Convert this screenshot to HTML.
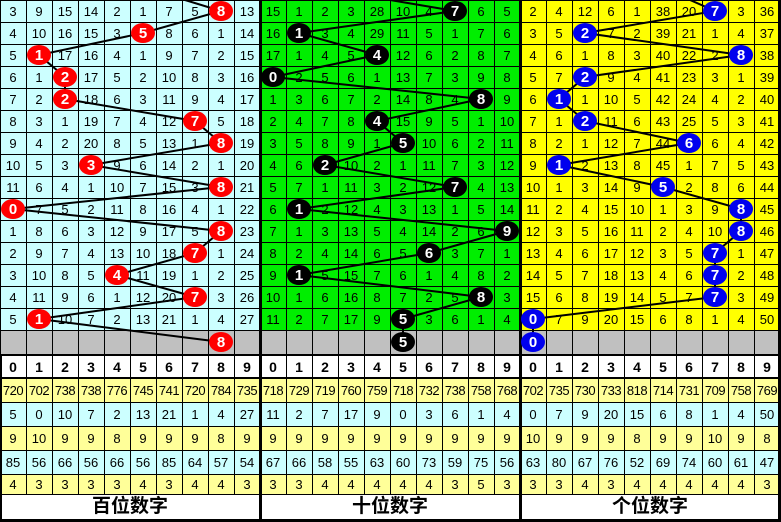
<!DOCTYPE html>
<html><head><meta charset="utf-8"><style>
*{margin:0;padding:0;box-sizing:border-box}
body{width:781px;height:522px;position:relative;overflow:hidden;background:#fff;font-family:"Liberation Sans","Noto Sans CJK SC",sans-serif;font-size:13px;color:#000}
.p{position:absolute;top:0;width:260px;height:330px;background-image:linear-gradient(to right,#000 1px,transparent 1px),linear-gradient(to bottom,#000 1px,transparent 1px);background-size:26px 22px}
.r{display:flex;height:22px;line-height:23px}
.r span{width:26px;text-align:center}
.g{position:absolute;top:330px;height:24px;width:780px;left:0;background-color:#c0c0c0;background-image:linear-gradient(to right,#000 1px,transparent 1px),linear-gradient(to bottom,#000 1px,transparent 1px);background-size:26px 24px}
.s{position:absolute;left:0;width:780px;display:flex;background-image:linear-gradient(to right,#000 1px,transparent 1px);background-size:26px 100%;border-bottom:1px solid #000}
.s span{width:26px;text-align:center}
.v{position:absolute;background:#000}
</style></head><body>
<div class="p" style="left:0;background-color:#ccffff">
<div class="r"><span>3</span><span>9</span><span>15</span><span>14</span><span>2</span><span>1</span><span>7</span><span>5</span><span>8</span><span>13</span></div>
<div class="r"><span>4</span><span>10</span><span>16</span><span>15</span><span>3</span><span>5</span><span>8</span><span>6</span><span>1</span><span>14</span></div>
<div class="r"><span>5</span><span>1</span><span>17</span><span>16</span><span>4</span><span>1</span><span>9</span><span>7</span><span>2</span><span>15</span></div>
<div class="r"><span>6</span><span>1</span><span>2</span><span>17</span><span>5</span><span>2</span><span>10</span><span>8</span><span>3</span><span>16</span></div>
<div class="r"><span>7</span><span>2</span><span>2</span><span>18</span><span>6</span><span>3</span><span>11</span><span>9</span><span>4</span><span>17</span></div>
<div class="r"><span>8</span><span>3</span><span>1</span><span>19</span><span>7</span><span>4</span><span>12</span><span>7</span><span>5</span><span>18</span></div>
<div class="r"><span>9</span><span>4</span><span>2</span><span>20</span><span>8</span><span>5</span><span>13</span><span>1</span><span>8</span><span>19</span></div>
<div class="r"><span>10</span><span>5</span><span>3</span><span>3</span><span>9</span><span>6</span><span>14</span><span>2</span><span>1</span><span>20</span></div>
<div class="r"><span>11</span><span>6</span><span>4</span><span>1</span><span>10</span><span>7</span><span>15</span><span>3</span><span>8</span><span>21</span></div>
<div class="r"><span>0</span><span>7</span><span>5</span><span>2</span><span>11</span><span>8</span><span>16</span><span>4</span><span>1</span><span>22</span></div>
<div class="r"><span>1</span><span>8</span><span>6</span><span>3</span><span>12</span><span>9</span><span>17</span><span>5</span><span>8</span><span>23</span></div>
<div class="r"><span>2</span><span>9</span><span>7</span><span>4</span><span>13</span><span>10</span><span>18</span><span>7</span><span>1</span><span>24</span></div>
<div class="r"><span>3</span><span>10</span><span>8</span><span>5</span><span>4</span><span>11</span><span>19</span><span>1</span><span>2</span><span>25</span></div>
<div class="r"><span>4</span><span>11</span><span>9</span><span>6</span><span>1</span><span>12</span><span>20</span><span>7</span><span>3</span><span>26</span></div>
<div class="r"><span>5</span><span>1</span><span>10</span><span>7</span><span>2</span><span>13</span><span>21</span><span>1</span><span>4</span><span>27</span></div>
</div>
<div class="p" style="left:260px;background-color:#00ee00">
<div class="r"><span>15</span><span>1</span><span>2</span><span>3</span><span>28</span><span>10</span><span>4</span><span>7</span><span>6</span><span>5</span></div>
<div class="r"><span>16</span><span>1</span><span>3</span><span>4</span><span>29</span><span>11</span><span>5</span><span>1</span><span>7</span><span>6</span></div>
<div class="r"><span>17</span><span>1</span><span>4</span><span>5</span><span>4</span><span>12</span><span>6</span><span>2</span><span>8</span><span>7</span></div>
<div class="r"><span>0</span><span>2</span><span>5</span><span>6</span><span>1</span><span>13</span><span>7</span><span>3</span><span>9</span><span>8</span></div>
<div class="r"><span>1</span><span>3</span><span>6</span><span>7</span><span>2</span><span>14</span><span>8</span><span>4</span><span>8</span><span>9</span></div>
<div class="r"><span>2</span><span>4</span><span>7</span><span>8</span><span>4</span><span>15</span><span>9</span><span>5</span><span>1</span><span>10</span></div>
<div class="r"><span>3</span><span>5</span><span>8</span><span>9</span><span>1</span><span>5</span><span>10</span><span>6</span><span>2</span><span>11</span></div>
<div class="r"><span>4</span><span>6</span><span>2</span><span>10</span><span>2</span><span>1</span><span>11</span><span>7</span><span>3</span><span>12</span></div>
<div class="r"><span>5</span><span>7</span><span>1</span><span>11</span><span>3</span><span>2</span><span>12</span><span>7</span><span>4</span><span>13</span></div>
<div class="r"><span>6</span><span>1</span><span>2</span><span>12</span><span>4</span><span>3</span><span>13</span><span>1</span><span>5</span><span>14</span></div>
<div class="r"><span>7</span><span>1</span><span>3</span><span>13</span><span>5</span><span>4</span><span>14</span><span>2</span><span>6</span><span>9</span></div>
<div class="r"><span>8</span><span>2</span><span>4</span><span>14</span><span>6</span><span>5</span><span>6</span><span>3</span><span>7</span><span>1</span></div>
<div class="r"><span>9</span><span>1</span><span>5</span><span>15</span><span>7</span><span>6</span><span>1</span><span>4</span><span>8</span><span>2</span></div>
<div class="r"><span>10</span><span>1</span><span>6</span><span>16</span><span>8</span><span>7</span><span>2</span><span>5</span><span>8</span><span>3</span></div>
<div class="r"><span>11</span><span>2</span><span>7</span><span>17</span><span>9</span><span>5</span><span>3</span><span>6</span><span>1</span><span>4</span></div>
</div>
<div class="p" style="left:520px;background-color:#ffff00">
<div class="r"><span>2</span><span>4</span><span>12</span><span>6</span><span>1</span><span>38</span><span>20</span><span>7</span><span>3</span><span>36</span></div>
<div class="r"><span>3</span><span>5</span><span>2</span><span>7</span><span>2</span><span>39</span><span>21</span><span>1</span><span>4</span><span>37</span></div>
<div class="r"><span>4</span><span>6</span><span>1</span><span>8</span><span>3</span><span>40</span><span>22</span><span>2</span><span>8</span><span>38</span></div>
<div class="r"><span>5</span><span>7</span><span>2</span><span>9</span><span>4</span><span>41</span><span>23</span><span>3</span><span>1</span><span>39</span></div>
<div class="r"><span>6</span><span>1</span><span>1</span><span>10</span><span>5</span><span>42</span><span>24</span><span>4</span><span>2</span><span>40</span></div>
<div class="r"><span>7</span><span>1</span><span>2</span><span>11</span><span>6</span><span>43</span><span>25</span><span>5</span><span>3</span><span>41</span></div>
<div class="r"><span>8</span><span>2</span><span>1</span><span>12</span><span>7</span><span>44</span><span>6</span><span>6</span><span>4</span><span>42</span></div>
<div class="r"><span>9</span><span>1</span><span>2</span><span>13</span><span>8</span><span>45</span><span>1</span><span>7</span><span>5</span><span>43</span></div>
<div class="r"><span>10</span><span>1</span><span>3</span><span>14</span><span>9</span><span>5</span><span>2</span><span>8</span><span>6</span><span>44</span></div>
<div class="r"><span>11</span><span>2</span><span>4</span><span>15</span><span>10</span><span>1</span><span>3</span><span>9</span><span>8</span><span>45</span></div>
<div class="r"><span>12</span><span>3</span><span>5</span><span>16</span><span>11</span><span>2</span><span>4</span><span>10</span><span>8</span><span>46</span></div>
<div class="r"><span>13</span><span>4</span><span>6</span><span>17</span><span>12</span><span>3</span><span>5</span><span>7</span><span>1</span><span>47</span></div>
<div class="r"><span>14</span><span>5</span><span>7</span><span>18</span><span>13</span><span>4</span><span>6</span><span>7</span><span>2</span><span>48</span></div>
<div class="r"><span>15</span><span>6</span><span>8</span><span>19</span><span>14</span><span>5</span><span>7</span><span>7</span><span>3</span><span>49</span></div>
<div class="r"><span>0</span><span>7</span><span>9</span><span>20</span><span>15</span><span>6</span><span>8</span><span>1</span><span>4</span><span>50</span></div>
</div>
<div class="g"></div>
<div class="v" style="left:0;top:354px;width:781px;height:2px"></div>
<div class="s" style="top:356px;height:23px;line-height:22px;background-color:#fff;font-weight:bold;font-size:14px;border-bottom:2px solid #000"><span>0</span><span>1</span><span>2</span><span>3</span><span>4</span><span>5</span><span>6</span><span>7</span><span>8</span><span>9</span><span>0</span><span>1</span><span>2</span><span>3</span><span>4</span><span>5</span><span>6</span><span>7</span><span>8</span><span>9</span><span>0</span><span>1</span><span>2</span><span>3</span><span>4</span><span>5</span><span>6</span><span>7</span><span>8</span><span>9</span></div>
<div class="s" style="top:379px;height:24px;line-height:23px;background-color:#ffff99;letter-spacing:-0.5px"><span>720</span><span>702</span><span>738</span><span>738</span><span>776</span><span>745</span><span>741</span><span>720</span><span>784</span><span>735</span><span>718</span><span>729</span><span>719</span><span>760</span><span>759</span><span>718</span><span>732</span><span>738</span><span>758</span><span>768</span><span>702</span><span>735</span><span>730</span><span>733</span><span>818</span><span>714</span><span>731</span><span>709</span><span>758</span><span>769</span></div>
<div class="s" style="top:403px;height:24px;line-height:23px;background-color:#ccffff"><span>5</span><span>0</span><span>10</span><span>7</span><span>2</span><span>13</span><span>21</span><span>1</span><span>4</span><span>27</span><span>11</span><span>2</span><span>7</span><span>17</span><span>9</span><span>0</span><span>3</span><span>6</span><span>1</span><span>4</span><span>0</span><span>7</span><span>9</span><span>20</span><span>15</span><span>6</span><span>8</span><span>1</span><span>4</span><span>50</span></div>
<div class="s" style="top:427px;height:24px;line-height:23px;background-color:#ffff99"><span>9</span><span>10</span><span>9</span><span>9</span><span>8</span><span>9</span><span>9</span><span>9</span><span>8</span><span>9</span><span>9</span><span>9</span><span>9</span><span>9</span><span>9</span><span>9</span><span>9</span><span>9</span><span>9</span><span>9</span><span>10</span><span>9</span><span>9</span><span>9</span><span>8</span><span>9</span><span>9</span><span>10</span><span>9</span><span>8</span></div>
<div class="s" style="top:451px;height:24px;line-height:23px;background-color:#ccffff"><span>85</span><span>56</span><span>66</span><span>56</span><span>66</span><span>56</span><span>85</span><span>64</span><span>57</span><span>54</span><span>67</span><span>66</span><span>58</span><span>55</span><span>63</span><span>60</span><span>73</span><span>59</span><span>75</span><span>56</span><span>63</span><span>80</span><span>67</span><span>76</span><span>52</span><span>69</span><span>74</span><span>60</span><span>61</span><span>47</span></div>
<div class="s" style="top:475px;height:20px;line-height:19px;background-color:#ffff99"><span>4</span><span>3</span><span>3</span><span>3</span><span>3</span><span>4</span><span>3</span><span>4</span><span>4</span><span>3</span><span>3</span><span>3</span><span>4</span><span>4</span><span>4</span><span>4</span><span>4</span><span>3</span><span>5</span><span>3</span><span>3</span><span>3</span><span>4</span><span>3</span><span>4</span><span>4</span><span>4</span><span>4</span><span>4</span><span>3</span></div>
<div style="position:absolute;top:495px;left:0;width:781px;height:24px;display:flex;font-size:19px;font-weight:bold;line-height:24px">
<div style="width:260px;text-align:center">百位数字</div><div style="width:260px;text-align:center">十位数字</div><div style="width:260px;text-align:center">个位数字</div></div>
<div class="v" style="left:0;top:519px;width:781px;height:3px"></div>
<div class="v" style="left:259px;top:0;width:3px;height:522px"></div>
<div class="v" style="left:519px;top:0;width:3px;height:522px"></div>
<div class="v" style="left:778px;top:0;width:3px;height:522px"></div>
<div class="v" style="left:0;top:354px;width:2px;height:168px"></div>
<svg width="781" height="522" style="position:absolute;left:0;top:0" font-family="Liberation Sans,sans-serif" font-weight="bold" font-size="15" text-anchor="middle">
<g fill="none" stroke="#000" stroke-width="2">
<polyline points="185,0 221,11 143,33 39,55 65,77 65,99 195,121 221,143 91,165 221,187 13,209 221,231 195,253 117,275 195,297 39,319 221,342"/>
<polyline points="390,0 455,11 299,33 377,55 273,77 481,99 377,121 403,143 325,165 455,187 299,209 507,231 429,253 299,275 481,297 403,319 403,342"/>
<polyline points="690,0 715,11 585,33 741,55 585,77 559,99 585,121 689,143 559,165 663,187 741,209 741,231 715,253 715,275 715,297 533,319 533,342"/>
</g>
<g fill="#f00">
<ellipse cx="221" cy="11" rx="12" ry="10"/><ellipse cx="143" cy="33" rx="12" ry="10"/><ellipse cx="39" cy="55" rx="12" ry="10"/><ellipse cx="65" cy="77" rx="12" ry="10"/><ellipse cx="65" cy="99" rx="12" ry="10"/><ellipse cx="195" cy="121" rx="12" ry="10"/><ellipse cx="221" cy="143" rx="12" ry="10"/><ellipse cx="91" cy="165" rx="12" ry="10"/><ellipse cx="221" cy="187" rx="12" ry="10"/><ellipse cx="13" cy="209" rx="12" ry="10"/><ellipse cx="221" cy="231" rx="12" ry="10"/><ellipse cx="195" cy="253" rx="12" ry="10"/><ellipse cx="117" cy="275" rx="12" ry="10"/><ellipse cx="195" cy="297" rx="12" ry="10"/><ellipse cx="39" cy="319" rx="12" ry="10"/><ellipse cx="221" cy="342" rx="12" ry="10"/>
</g>
<g fill="#000">
<ellipse cx="455" cy="11" rx="12" ry="10"/><ellipse cx="299" cy="33" rx="12" ry="10"/><ellipse cx="377" cy="55" rx="12" ry="10"/><ellipse cx="273" cy="77" rx="12" ry="10"/><ellipse cx="481" cy="99" rx="12" ry="10"/><ellipse cx="377" cy="121" rx="12" ry="10"/><ellipse cx="403" cy="143" rx="12" ry="10"/><ellipse cx="325" cy="165" rx="12" ry="10"/><ellipse cx="455" cy="187" rx="12" ry="10"/><ellipse cx="299" cy="209" rx="12" ry="10"/><ellipse cx="507" cy="231" rx="12" ry="10"/><ellipse cx="429" cy="253" rx="12" ry="10"/><ellipse cx="299" cy="275" rx="12" ry="10"/><ellipse cx="481" cy="297" rx="12" ry="10"/><ellipse cx="403" cy="319" rx="12" ry="10"/><ellipse cx="403" cy="342" rx="12" ry="10"/>
</g>
<g fill="#0000ee">
<ellipse cx="715" cy="11" rx="12" ry="10"/><ellipse cx="585" cy="33" rx="12" ry="10"/><ellipse cx="741" cy="55" rx="12" ry="10"/><ellipse cx="585" cy="77" rx="12" ry="10"/><ellipse cx="559" cy="99" rx="12" ry="10"/><ellipse cx="585" cy="121" rx="12" ry="10"/><ellipse cx="689" cy="143" rx="12" ry="10"/><ellipse cx="559" cy="165" rx="12" ry="10"/><ellipse cx="663" cy="187" rx="12" ry="10"/><ellipse cx="741" cy="209" rx="12" ry="10"/><ellipse cx="741" cy="231" rx="12" ry="10"/><ellipse cx="715" cy="253" rx="12" ry="10"/><ellipse cx="715" cy="275" rx="12" ry="10"/><ellipse cx="715" cy="297" rx="12" ry="10"/><ellipse cx="533" cy="319" rx="12" ry="10"/><ellipse cx="533" cy="342" rx="12" ry="10"/>
</g>
<g fill="#fff">
<text x="221" y="16">8</text><text x="143" y="38">5</text><text x="39" y="60">1</text><text x="65" y="82">2</text><text x="65" y="104">2</text><text x="195" y="126">7</text><text x="221" y="148">8</text><text x="91" y="170">3</text><text x="221" y="192">8</text><text x="13" y="214">0</text><text x="221" y="236">8</text><text x="195" y="258">7</text><text x="117" y="280">4</text><text x="195" y="302">7</text><text x="39" y="324">1</text><text x="221" y="347">8</text>
<text x="455" y="16">7</text><text x="299" y="38">1</text><text x="377" y="60">4</text><text x="273" y="82">0</text><text x="481" y="104">8</text><text x="377" y="126">4</text><text x="403" y="148">5</text><text x="325" y="170">2</text><text x="455" y="192">7</text><text x="299" y="214">1</text><text x="507" y="236">9</text><text x="429" y="258">6</text><text x="299" y="280">1</text><text x="481" y="302">8</text><text x="403" y="324">5</text><text x="403" y="347">5</text>
<text x="715" y="16">7</text><text x="585" y="38">2</text><text x="741" y="60">8</text><text x="585" y="82">2</text><text x="559" y="104">1</text><text x="585" y="126">2</text><text x="689" y="148">6</text><text x="559" y="170">1</text><text x="663" y="192">5</text><text x="741" y="214">8</text><text x="741" y="236">8</text><text x="715" y="258">7</text><text x="715" y="280">7</text><text x="715" y="302">7</text><text x="533" y="324">0</text><text x="533" y="347">0</text>
</g>
</svg>
</body></html>
